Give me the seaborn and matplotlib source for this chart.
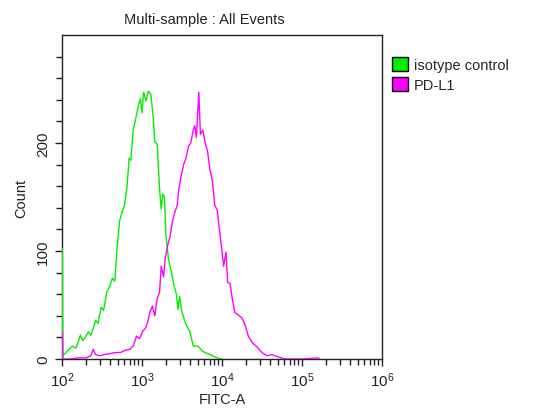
import numpy as np
import pandas as pd
import matplotlib
matplotlib.use("Agg")
import matplotlib.pyplot as plt
import matplotlib.ticker as mticker
from matplotlib.patches import Patch
import seaborn as sns

# histogram readings: log10(FITC-A) bin positions and counts
iso_log = [2.00, 2.005, 2.01, 2.05, 2.09, 2.13, 2.17, 2.20, 2.23, 2.26, 2.29, 2.33, 2.36,
           2.39, 2.42, 2.45, 2.49, 2.52, 2.56, 2.60, 2.63, 2.66, 2.69, 2.72, 2.75,
           2.78, 2.81, 2.84, 2.86, 2.89, 2.92, 2.95, 2.98, 3.00, 3.02, 3.05, 3.08,
           3.11, 3.14, 3.16, 3.19, 3.22, 3.24, 3.26, 3.28, 3.30, 3.33, 3.37, 3.40,
           3.43, 3.45, 3.47, 3.50, 3.55, 3.60, 3.64, 3.70, 3.76, 3.82, 3.88, 3.94,
           4.00]
iso_count = [102, 102, 3, 6, 9, 12, 10, 15, 22, 17, 20, 25, 22,
             28, 36, 33, 48, 45, 62, 68, 75, 72, 104, 128, 136,
             142, 158, 186, 184, 212, 222, 233, 241, 228, 247, 239, 248,
             245, 224, 201, 199, 157, 139, 153, 150, 114, 93, 80, 68,
             60, 46, 58, 43, 32, 25, 12, 12, 7, 5, 3, 1,
             0]

pdl1_log = [2.00, 2.005, 2.01, 2.10, 2.20, 2.30, 2.36, 2.39, 2.42, 2.47, 2.52, 2.60, 2.67,
            2.73, 2.79, 2.85, 2.89, 2.93, 2.97, 3.01, 3.04, 3.07, 3.10, 3.13, 3.16,
            3.19, 3.22, 3.24, 3.27, 3.29, 3.32, 3.35, 3.38, 3.41, 3.44, 3.46, 3.49,
            3.52, 3.55, 3.58, 3.61, 3.64, 3.66, 3.68, 3.71, 3.73, 3.76, 3.79, 3.82,
            3.85, 3.88, 3.91, 3.94, 3.97, 4.00, 4.02, 4.05, 4.07, 4.10, 4.13, 4.16,
            4.20, 4.25, 4.29, 4.33, 4.38, 4.44, 4.50, 4.56, 4.62, 4.70, 4.79, 5.00,
            5.20, 5.22]
pdl1_count = [25, 25, 0, 0, 1, 1, 3, 9, 4, 3, 4, 5, 6,
              6, 8, 9, 12, 21, 19, 26, 28, 34, 44, 49, 40,
              56, 62, 86, 76, 93, 105, 113, 127, 136, 142, 157, 170,
              180, 186, 197, 200, 212, 216, 205, 247, 208, 212, 200, 192,
              175, 165, 142, 138, 118, 100, 86, 99, 71, 70, 55, 43,
              41, 38, 31, 21, 15, 11, 6, 3, 4, 2, 0, 0,
              1, 0]

samples = ["isotype control", "PD-L1"]
colors = {"isotype control": "#00ee00", "PD-L1": "#ff00ff"}

df = pd.concat([
    pd.DataFrame({"fitc": np.power(10.0, iso_log), "count": iso_count, "sample": samples[0]}),
    pd.DataFrame({"fitc": np.power(10.0, pdl1_log), "count": pdl1_count, "sample": samples[1]}),
])

sns.set_style("ticks")
plt.rcParams["font.family"] = ["Liberation Sans", "DejaVu Sans"]

fig = plt.figure(figsize=(5.4, 4.1), dpi=100)
ax = fig.add_axes([62 / 540, 50 / 410, 320 / 540, 324 / 410])

sns.lineplot(data=df, x="fitc", y="count", hue="sample", palette=colors,
             estimator=None, sort=False, linewidth=1.0,
             legend=False, ax=ax, zorder=3)

ax.set_xscale("log")
ax.set_xlim(1e2, 1e6)
ax.set_ylim(0, 300)
ax.xaxis.set_major_locator(mticker.LogLocator(base=10, numticks=10))
ax.xaxis.set_minor_locator(mticker.LogLocator(base=10, subs=np.arange(2, 10), numticks=20))
ax.xaxis.set_minor_formatter(mticker.NullFormatter())
ax.yaxis.set_major_locator(mticker.FixedLocator([0, 100, 200]))
ax.yaxis.set_minor_locator(mticker.FixedLocator(list(range(20, 300, 20))))

for sp in ax.spines.values():
    sp.set_visible(True)
    sp.set_color("#222222")
    sp.set_linewidth(1.0)

ax.tick_params(axis="both", which="major", length=5, width=1, color="#222222",
               labelsize=11, labelcolor="#222222")
ax.tick_params(axis="both", which="minor", length=4, width=1, color="#222222")
for lab in ax.get_yticklabels():
    lab.set_rotation(90)
    lab.set_va("center")

ax.set_xlabel("FITC-A", fontsize=10.5, color="#222222", labelpad=2)
ax.set_ylabel("Count", fontsize=10.5, color="#222222", labelpad=6)
fig.text(204 / 540, 1 - 20 / 410, "Multi-sample : All Events", ha="center", va="center",
         fontsize=10.5, color="#222222")

handles = [Patch(facecolor=colors[s], edgecolor="black", linewidth=1.0, label=s) for s in samples]
fig.legend(handles=handles, loc="upper left", bbox_to_anchor=(392 / 540, 1 - 58 / 410),
           frameon=False, fontsize=10.5, handlelength=1.1, handleheight=1.1,
           handletextpad=0.4, labelspacing=0.35, borderaxespad=0, borderpad=0)

fig.savefig("out.png", dpi=100)
